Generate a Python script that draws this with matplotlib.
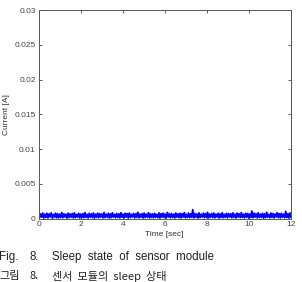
import numpy as np
import matplotlib
matplotlib.use("Agg")
import matplotlib.pyplot as plt

# Sleep-state current samples [A] (noise band near zero)
current = [
    0.00072, 0.00015, 0.00068, 0.00022, 0.00081, 0.00010, 0.00065, 0.00018, 0.00077, 0.00012,
    0.00070, 0.00025, 0.00085, 0.00008, 0.00062, 0.00020, 0.00079, 0.00014, 0.00073, 0.00011,
    0.00066, 0.00019, 0.00088, 0.00013, 0.00071, 0.00023, 0.00064, 0.00009, 0.00080, 0.00017,
    0.00069, 0.00021, 0.00075, 0.00012, 0.00083, 0.00016, 0.00061, 0.00024, 0.00078, 0.00010,
    0.00067, 0.00018, 0.00074, 0.00014, 0.00086, 0.00020, 0.00063, 0.00011, 0.00076, 0.00022,
    0.00070, 0.00015, 0.00082, 0.00009, 0.00065, 0.00019, 0.00079, 0.00013, 0.00072, 0.00024,
    0.00068, 0.00012, 0.00090, 0.00017, 0.00064, 0.00021, 0.00077, 0.00010, 0.00071, 0.00016,
    0.00084, 0.00023, 0.00062, 0.00014, 0.00075, 0.00018, 0.00069, 0.00011, 0.00087, 0.00020,
    0.00066, 0.00013, 0.00078, 0.00022, 0.00073, 0.00009, 0.00081, 0.00017, 0.00063, 0.00025,
    0.00076, 0.00012, 0.00070, 0.00019, 0.00092, 0.00014, 0.00067, 0.00021, 0.00074, 0.00010,
    0.00080, 0.00016, 0.00065, 0.00023, 0.00085, 0.00011, 0.00071, 0.00018, 0.00068, 0.00013,
    0.00077, 0.00020, 0.00062, 0.00015, 0.00083, 0.00009, 0.00072, 0.00022, 0.00079, 0.00017,
    0.00066, 0.00012, 0.00089, 0.00024, 0.00070, 0.00014, 0.00075, 0.00019, 0.00064, 0.00010,
    0.00082, 0.00021, 0.00069, 0.00016, 0.00078, 0.00011, 0.00073, 0.00023, 0.00087, 0.00013,
    0.00065, 0.00018, 0.00080, 0.00015, 0.00071, 0.00020, 0.00130, 0.00012, 0.00076, 0.00022,
    0.00068, 0.00009, 0.00084, 0.00017, 0.00063, 0.00024, 0.00079, 0.00014, 0.00072, 0.00019,
    0.00091, 0.00011, 0.00067, 0.00021, 0.00074, 0.00016, 0.00081, 0.00013, 0.00065, 0.00023,
    0.00077, 0.00010, 0.00070, 0.00018, 0.00086, 0.00015, 0.00062, 0.00020, 0.00078, 0.00012,
    0.00073, 0.00025, 0.00069, 0.00014, 0.00083, 0.00017, 0.00066, 0.00011, 0.00080, 0.00022,
    0.00071, 0.00016, 0.00088, 0.00019, 0.00064, 0.00013, 0.00076, 0.00021, 0.00075, 0.00010,
    0.00068, 0.00018, 0.00110, 0.00014, 0.00079, 0.00023, 0.00072, 0.00012, 0.00085, 0.00017,
    0.00066, 0.00020, 0.00077, 0.00009, 0.00070, 0.00015, 0.00093, 0.00022, 0.00063, 0.00013,
    0.00081, 0.00019, 0.00074, 0.00011, 0.00067, 0.00024, 0.00087, 0.00016, 0.00072, 0.00012,
    0.00078, 0.00021, 0.00065, 0.00014, 0.00105, 0.00018, 0.00071, 0.00010, 0.00083, 0.00020,
]
time = np.linspace(0, 12, len(current))

x_ticks = [0, 2, 4, 6, 8, 10, 12]
y_ticks = [0, 0.005, 0.01, 0.015, 0.02, 0.025, 0.03]
y_tick_labels = ["0", "0.005", "0.01", "0.015", "0.02", "0.025", "0.03"]

plt.rcParams['font.family'] = ['Liberation Sans', 'DejaVu Sans']

fig = plt.figure(figsize=(3.02, 2.82), dpi=100)
ax = fig.add_axes([0.1275, 0.2245, 0.836, 0.740])
ax.plot(time, current, color='#0000ff', linewidth=1.3)
ax.set_xlim(0, 12)
ax.set_ylim(0, 0.03)
ax.set_xticks(x_ticks)
ax.set_yticks(y_ticks)
ax.set_yticklabels(y_tick_labels)
ax.tick_params(direction='in', length=2.5, width=0.6, labelsize=6,
               colors='#444444', top=True, right=True, pad=2)
for s in ax.spines.values():
    s.set_color('#555555')
    s.set_linewidth(0.7)
ax.set_xlabel('Time [sec]', fontsize=6, color='#333333', labelpad=2)
ax.set_ylabel('Current [A]', fontsize=6, color='#333333', labelpad=3)

def px(x, y):
    return x / 302, 1 - y / 282

cap = dict(fontsize=8.3, color='#222222', va='center', ha='left')
fig.text(*px(-1, 257), 'Fig.', **cap)
fig.text(*px(29, 257), '8.', **cap)
fig.text(*px(52, 257), 'Sleep  state  of  sensor  module', **cap)
kcap = dict(cap, family=['Noto Sans CJK KR', 'DejaVu Sans'], fontsize=8.0)
fig.text(*px(-1, 276), '그림', **kcap)
fig.text(*px(29, 276), '8.', **kcap)
fig.text(*px(52, 276), '센서  모듈의  sleep  상태', **kcap)

fig.savefig('out.png', dpi=100)
